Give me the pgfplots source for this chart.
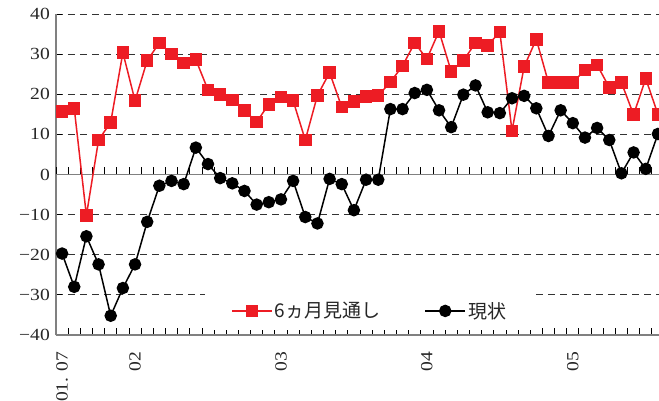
\documentclass[border=0pt]{standalone}
\usepackage{fontspec}
\setmainfont{Liberation Serif}
\newfontfamily\jp{Noto Sans CJK JP}
\newfontfamily\tickfont[FakeStretch=1.15]{Liberation Serif}
\usepackage{pgfplots}
\usepackage{pgfplotstable}
\pgfplotsset{compat=1.18}
\usetikzlibrary{calc}
\definecolor{cred}{RGB}{237,28,36}

\pgfplotstableread{
x fut cur
0 15.7 -19.7
1 16.5 -28.0
2 -10.2 -15.4
3 8.6 -22.4
4 13.0 -35.2
5 30.4 -28.3
6 18.4 -22.4
7 28.4 -11.8
8 32.8 -2.8
9 30.0 -1.6
10 27.8 -2.4
11 28.6 6.7
12 21.1 2.6
13 19.9 -0.9
14 18.6 -2.2
15 15.9 -4.1
16 13.1 -7.5
17 17.5 -6.9
18 19.3 -6.2
19 18.4 -1.6
20 8.6 -10.6
21 19.7 -12.2
22 25.4 -1.1
23 16.8 -2.4
24 18.2 -8.9
25 19.5 -1.3
26 19.7 -1.3
27 23.0 16.3
28 27.1 16.3
29 32.8 20.3
30 28.8 21.1
31 35.7 16.0
32 25.7 11.8
33 28.4 19.9
34 32.8 22.2
35 32.2 15.5
36 35.5 15.3
37 10.9 19.0
38 26.9 19.6
39 33.7 16.5
40 22.9 9.6
41 22.9 16.0
42 22.9 12.8
43 26.1 9.2
44 27.3 11.6
45 21.7 8.6
46 22.9 0.3
47 14.9 5.5
48 23.9 1.4
49 15.0 10.1
}\datatable

\begin{document}
\begin{tikzpicture}
\begin{axis}[
  scale only axis, width=608pt, height=321pt,
  xmin=-0.5, xmax=49.5, ymin=-40, ymax=40,
  axis x line*=bottom, axis y line*=left,
  axis line style={gray, line width=1.3pt, -},
  xtick={0,6,18,30,42},
  xticklabels={01.\,\,07,02,03,04,05},
  minor xtick={-0.5,0.5,...,49.5},
  major x tick style={draw=none},
  minor x tick style={black, line width=0.8pt},
  minor tick length=7pt,
  tick align=inside,
  ytick={-40,-30,...,40},
  yticklabels={−40,−30,−20,−10,{0\hspace{8pt}},{10\hspace{8pt}},{20\hspace{8pt}},{30\hspace{8pt}},{40\hspace{8pt}}},
  major y tick style={black, line width=0.8pt},
  major tick length=6pt,
  ticklabel style={font=\tickfont\fontsize{17}{17}\selectfont, text=black!85},
  yticklabel style={inner sep=0pt, xshift=-6pt},
  xticklabel style={rotate=90, anchor=east, inner sep=0pt},
  xticklabel shift=17pt,
  ymajorgrids,
  grid style={black!80, line width=0.9pt, dash pattern=on 7pt off 5pt},
  legend columns=2,
  legend style={at={(0.516,0.075)}, anchor=center, draw=none, fill=white,
    inner xsep=26pt, inner ysep=8pt,
    font=\jp\fontsize{19}{19}\selectfont, text=black!85,
    /tikz/every even column/.append style={column sep=42pt}},
  legend image code/.code={\draw[mark repeat=2, mark phase=2, #1] plot coordinates {(0pt,0pt) (20pt,0pt) (40pt,0pt)};},
]
\draw[gray, line width=1.4pt] (axis cs:-0.5,0) -- (axis cs:49.5,0);
\pgfplotsinvokeforeach{-0.5,0.5,...,49.5}{\draw[black, line width=0.8pt] (axis cs:#1,0) -- ([yshift=7pt]axis cs:#1,0);}
\addplot[cred, line width=1.5pt, mark=square*, mark size=5.5pt, mark options={solid, fill=cred}] table[x=x, y=fut] {\datatable};
\addlegendentry{6ヵ月見通し}
\addplot[black, line width=1.5pt, mark=*, mark size=5.5pt, mark options={solid, fill=black}] table[x=x, y=cur] {\datatable};
\addlegendentry{現状}
\coordinate (bl) at (rel axis cs:0,0);
\end{axis}
\pgfresetboundingbox
\path ($(bl)+(-56pt,-66pt)$) rectangle ($(bl)+(603pt,335pt)$);
\end{tikzpicture}
\end{document}
